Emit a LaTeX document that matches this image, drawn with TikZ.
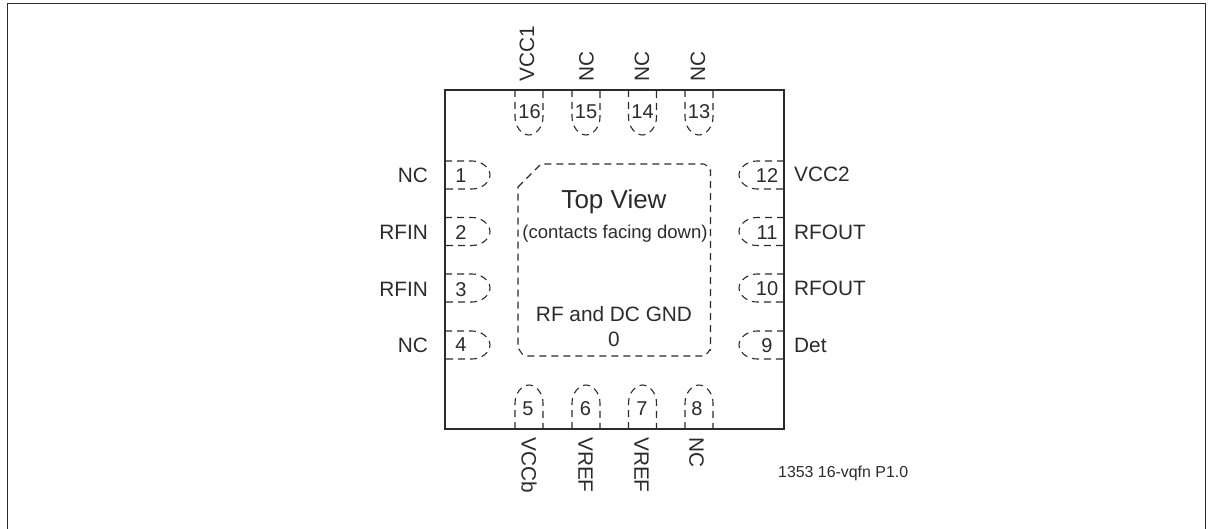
\documentclass[tikz,border=0pt]{standalone}
\usepackage{fontspec}
\setmainfont{Liberation Sans}
\definecolor{ink}{HTML}{2B2B2B}
\tikzset{
  x=1pt,y=-1pt,
  frameline/.style={draw=ink,line width=1.6pt},
  chip/.style={draw=ink,line width=2pt},
  dashline/.style={draw=ink,line width=1.1pt,dash pattern=on 7pt off 5pt},
  pinname/.style={inner sep=0pt,text=ink,font=\fontsize{20.8}{23}\selectfont},
  pinnum/.style={inner sep=0pt,text=ink,font=\fontsize{20}{22}\selectfont},
  tname/.style={pinname,rotate=90,anchor=west},
  bname/.style={pinname,rotate=-90,anchor=west},
}
\newcommand{\padtop}[2]{\draw[dashline] (#1-14,90) -- (#1-14,117) .. controls (#1-14,127) and (#1-7,135) .. (#1,135) .. controls (#1+7,135) and (#1+14,127) .. (#1+14,117) -- (#1+14,90);}
\newcommand{\padbot}[1]{\draw[dashline] (#1-14,429) -- (#1-14,403) .. controls (#1-14,393) and (#1-7,385) .. (#1,385) .. controls (#1+7,385) and (#1+14,393) .. (#1+14,403) -- (#1+14,429);}
\newcommand{\padleft}[1]{\draw[dashline] (445,#1-14) -- (472,#1-14) .. controls (482,#1-14) and (490,#1-7) .. (490,#1) .. controls (490,#1+7) and (482,#1+14) .. (472,#1+14) -- (445,#1+14);}
\newcommand{\padright}[1]{\draw[dashline] (784,#1-14) -- (757,#1-14) .. controls (747,#1-14) and (739,#1-7) .. (739,#1) .. controls (739,#1+7) and (747,#1+14) .. (757,#1+14) -- (784,#1+14);}
\begin{document}
\begin{tikzpicture}
\useasboundingbox (0,0) rectangle (1212,529);
\draw[frameline] (7.5,529) -- (7.5,3.5) -- (1205.5,3.5) -- (1205.5,529);
\foreach \c in {529,586,642.5,699}{\padtop{\c}{}\padbot{\c}}
\foreach \c in {175,231.5,288,345}{\padleft{\c}\padright{\c}}
\draw[dashline] (518,187) -- (541,164) -- (704,164) to[out=0,in=-90,looseness=0.8] (710.5,170) -- (710.5,350) to[out=90,in=0,looseness=0.8] (704,356) -- (525,356) to[out=180,in=90,looseness=0.8] (518,349) -- cycle;
\draw[chip] (444.5,90) rectangle (784,429);
% pad numbers
\node[pinnum] (p16) at (529.5,112) {16};
\node[pinnum] (p15) at (586,112) {15};
\node[pinnum] (p14) at (642.5,112) {14};
\node[pinnum] (p13) at (699,112) {13};
\node[pinnum] (p5) at (528,409) {5};
\node[pinnum] (p6) at (585.5,409) {6};
\node[pinnum] (p7) at (642,409) {7};
\node[pinnum] (p8) at (697,409) {8};
\node[pinnum] (p1) at (461,176) {1};
\node[pinnum] (p2) at (461,233) {2};
\node[pinnum] (p3) at (461,290) {3};
\node[pinnum] (p4) at (461,345) {4};
\node[pinnum] (p12) at (767,175.5) {12};
\node[pinnum] (p11) at (767,233) {11};
\node[pinnum] (p10) at (767,289) {10};
\node[pinnum] (p9) at (767,346) {9};
% pin names
\node[tname] (t16) at (527,82) {VCC1};
\node[tname] (t15) at (586.5,82) {NC};
\node[tname] (t14) at (642,82) {NC};
\node[tname] (t13) at (698,82) {NC};
\node[bname] (b5) at (529,437) {VCCb};
\node[bname] (b6) at (585.5,437) {VREF};
\node[bname] (b7) at (641.5,437) {VREF};
\node[bname] (b8) at (696.5,437) {NC};
\node[pinname,anchor=east] (l1) at (428,175) {NC};
\node[pinname,anchor=east] (l2) at (428,232) {RFIN};
\node[pinname,anchor=east] (l3) at (428,289) {RFIN};
\node[pinname,anchor=east] (l4) at (428,345) {NC};
\node[pinname,anchor=west] (r12) at (794,174) {VCC2};
\node[pinname,anchor=west] (r11) at (794,232.5) {RFOUT};
\node[pinname,anchor=west] (r10) at (794,288) {RFOUT};
\node[pinname,anchor=west] (r9) at (794,345) {Det};
% centre
\node[inner sep=0pt,text=ink,font=\fontsize{26}{28}\selectfont] (tv) at (614,202) {Top View};
\node[inner sep=0pt,text=ink,font=\fontsize{18.5}{20}\selectfont] (cf) at (615,234) {(contacts facing down)};
\node[pinname] (gnd) at (614,314) {RF and DC GND};
\node[pinname] (zero) at (614,339) {0};
\node[inner sep=0pt,text=ink,anchor=west,font=\fontsize{15.9}{18}\selectfont] (cap) at (778,473) {1353 16-vqfn P1.0};
\end{tikzpicture}
\end{document}
